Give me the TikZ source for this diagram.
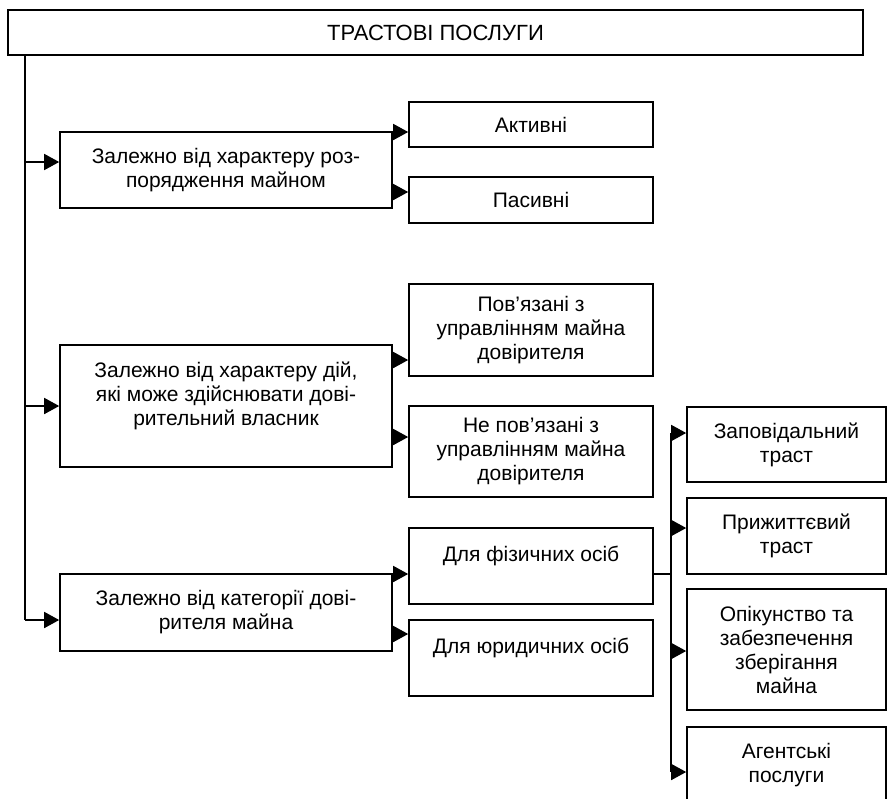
\documentclass[tikz,border=0pt]{standalone}
\usepackage{fontspec}
\setmainfont{Liberation Sans}
\usetikzlibrary{arrows.meta}
\tikzset{
  box/.style={draw, line width=1.6pt, inner sep=0pt, align=center,
    font=\fontsize{21}{24}\selectfont},
  link/.style={line width=1.6pt},
  arr/.style={link, -{Triangle[length=15pt,width=16pt]}},
}
\begin{document}
\begin{tikzpicture}[x=1pt, y=-1pt]
	\useasboundingbox (0,0) rectangle (888,798);
	
	\node[box, minimum width=855, minimum height=45, font=\fontsize{22}{24}\selectfont] (trust) at (435.5,32.5) {ТРАСТОВІ ПОСЛУГИ};
	
	% left column
	\node[box, minimum width=332, minimum height=76] (byuse) at (226,170)
		{Залежно від характеру роз-\\порядження майном};
	\node[box, minimum width=332, minimum height=122] (bydeeds) at (226,406)
		{Залежно від характеру дій,\\які може здійснювати дові-\\рительний власник\\\mbox{}};
	\node[box, minimum width=332, minimum height=77] (bycat) at (226,612.5)
		{Залежно від категорії дові-\\рителя майна};
	
	% middle column
	\node[box, minimum width=244, minimum height=45] (active) at (531,124.5) {Активні};
	\node[box, minimum width=244, minimum height=46] (passive) at (531,200) {Пасивні};
	\node[box, minimum width=244, minimum height=92] (tied) at (531,330)
		{Пов’язані з\\управлінням майна\\довірителя};
	\node[box, minimum width=244, minimum height=91] (untied) at (531,451.5)
		{Не пов’язані з\\управлінням майна\\довірителя};
	\node[box, minimum width=244, minimum height=76] (persons) at (531,566)
		{Для фізичних осіб\\\mbox{}};
	\node[box, minimum width=244, minimum height=76] (firms) at (531,658)
		{Для юридичних осіб\\\mbox{}};
	
	% right column
	\node[box, minimum width=199, minimum height=75] (will) at (786.5,444.5)
		{Заповідальний\\траст};
	\node[box, minimum width=199, minimum height=76] (living) at (786.5,536)
		{Прижиттєвий\\траст};
	\node[box, minimum width=199, minimum height=121] (custody) at (786.5,649.5)
		{Опікунство та\\забезпечення\\зберігання\\майна};
	\node[box, minimum width=199, minimum height=76] (agency) at (786.5,765)
		{Агентські\\послуги};
	
	% trunk on the left
	\coordinate (t0) at (25,55);
	\coordinate (t1) at (25,162);
	\coordinate (t2) at (25,406);
	\coordinate (t3) at (25,620);
	\draw[link] (t0) -- (t3);
	\draw[arr] (t1) -- (t1 -| byuse.west);
	\draw[arr] (t2) -- (t2 -| bydeeds.west);
	\draw[arr] (t3) -- (t3 -| bycat.west);
	
	% left to middle
	\coordinate (m1) at (392,132);
	\coordinate (m2) at (392,192);
	\coordinate (m3) at (392,360);
	\coordinate (m4) at (392,437);
	\coordinate (m5) at (392,574);
	\coordinate (m6) at (392,634);
	\draw[arr] (m1) -- (m1 -| active.west);
	\draw[arr] (m2) -- (m2 -| passive.west);
	\draw[arr] (m3) -- (m3 -| tied.west);
	\draw[arr] (m4) -- (m4 -| untied.west);
	\draw[arr] (m5) -- (m5 -| persons.west);
	\draw[arr] (m6) -- (m6 -| firms.west);
	
	% right trunk
	\coordinate (r0) at (671,433);
	\coordinate (r1) at (671,528);
	\coordinate (r2) at (671,574);
	\coordinate (r3) at (671,651);
	\coordinate (r4) at (671,772);
	\draw[link] (persons.east |- r2) -- (r2);
	\draw[link] (r0) -- (r4);
	\draw[arr] (r0) -- (r0 -| will.west);
	\draw[arr] (r1) -- (r1 -| living.west);
	\draw[arr] (r3) -- (r3 -| custody.west);
	\draw[arr] (r4) -- (r4 -| agency.west);
\end{tikzpicture}
\end{document}
